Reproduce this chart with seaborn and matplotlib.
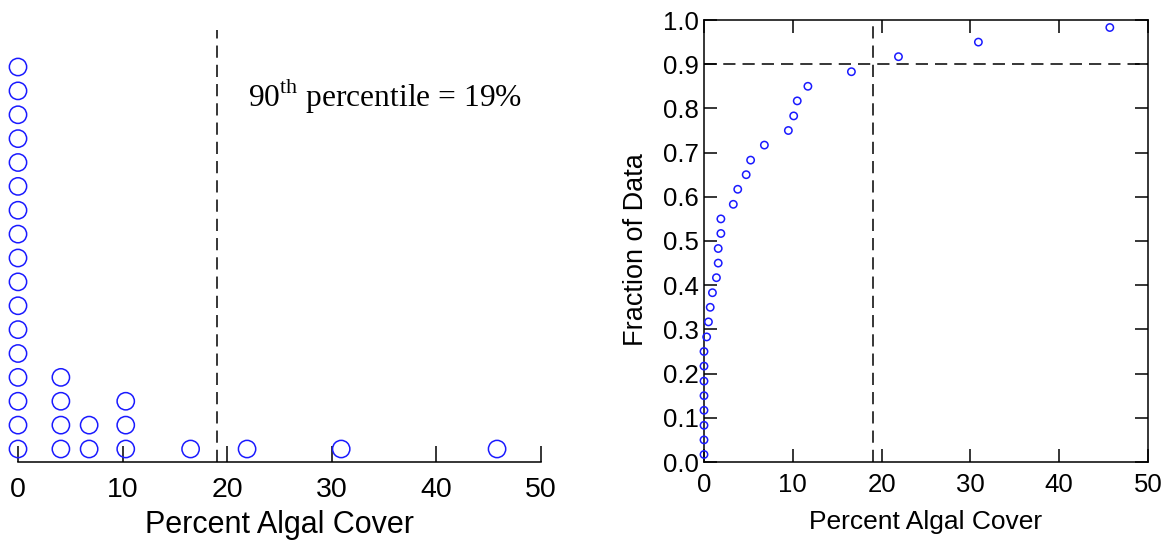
import numpy as np
import pandas as pd
import matplotlib
matplotlib.use('Agg')
import matplotlib.pyplot as plt
import seaborn as sns

sns.set_theme(style='white')
plt.rcParams['font.family'] = ['Liberation Sans', 'DejaVu Sans']
plt.rcParams['mathtext.fontset'] = 'custom'
plt.rcParams['mathtext.rm'] = 'Liberation Serif'
plt.rcParams['text.color'] = 'black'

# ── Data ──────────────────────────────────────────────────────────────────────

# dot plot (binned percent algal cover, number of samples per bin)
dot_bins = [0, 4.1, 6.8, 10.3, 16.5, 21.9, 30.9, 45.8]
dot_counts = [17, 4, 2, 3, 1, 1, 1, 1]

# sorted sample values and cumulative fraction of data
cover = [0, 0, 0, 0, 0, 0, 0, 0, 0.3, 0.5, 0.7, 0.95, 1.4, 1.6, 1.6,
         1.9, 1.9, 3.3, 3.8, 4.75, 5.25, 6.8, 9.5, 10.1, 10.5, 11.7,
         16.6, 21.9, 30.9, 45.7]
fraction = [0.017, 0.050, 0.083, 0.117, 0.150, 0.183, 0.217, 0.250,
            0.283, 0.317, 0.350, 0.383, 0.417, 0.450, 0.483, 0.517,
            0.550, 0.583, 0.617, 0.650, 0.683, 0.717, 0.750, 0.783,
            0.817, 0.850, 0.883, 0.917, 0.950, 0.983]

percentile_90 = 19
xticks = [0, 10, 20, 30, 40, 50]
yticks = [0.0, 0.1, 0.2, 0.3, 0.4, 0.5, 0.6, 0.7, 0.8, 0.9, 1.0]

df_dots = pd.DataFrame({'cover': np.repeat(dot_bins, dot_counts)})
df_dots['stack'] = df_dots.groupby('cover').cumcount() + 1
df_cdf = pd.DataFrame({'cover': cover, 'fraction': fraction})

W, H = 1162, 543
fig = plt.figure(figsize=(W / 100, H / 100), dpi=100)
fig.patch.set_facecolor('white')

lw = 1.1
dash = (8.0, 4.6)
blue = '#1a1aff'

# ── Left: dot plot ────────────────────────────────────────────────────────────

ax1 = fig.add_axes([18 / W, 1 - 462 / H, 523 / W, 432 / H])
ax1.set_facecolor('white')
sns.scatterplot(data=df_dots, x='cover', y='stack', ax=ax1, marker='o', s=155,
                facecolor='none', edgecolor=blue, linewidth=1.1,
                clip_on=False, zorder=3, legend=False)
ax1.axvline(percentile_90, color='black', lw=lw, dashes=dash)
ax1.set_xlim(0, 50)
ax1.set_ylim(0.4555, 18.55)
for side in ['left', 'top', 'right']:
    ax1.spines[side].set_visible(False)
ax1.spines['bottom'].set_color('black')
ax1.spines['bottom'].set_linewidth(lw)
ax1.set_xticks(xticks)
ax1.set_yticks([])
ax1.tick_params(axis='x', direction='in', length=11.5, width=lw, color='black',
                labelcolor='black', labelsize=20.5, pad=11, bottom=True)
ax1.set_xlabel('Percent Algal Cover', fontsize=22, labelpad=5, color='black')
ax1.set_ylabel('')
fig.text(248 / W, 1 - 106 / H, r'90$^{\rm th}$ percentile = 19%',
         family='Liberation Serif', fontsize=22.7, color='black',
         ha='left', va='baseline')

# ── Right: cumulative fraction ────────────────────────────────────────────────

ax2 = fig.add_axes([704 / W, 1 - 462 / H, 444 / W, 442 / H])
ax2.set_facecolor('white')
sns.scatterplot(data=df_cdf, x='cover', y='fraction', ax=ax2, marker='o', s=28,
                facecolor='none', edgecolor=blue, linewidth=1.1,
                clip_on=False, zorder=3, legend=False)
ax2.axvline(percentile_90, color='black', lw=lw, dashes=dash)
ax2.axhline(0.9, color='black', lw=lw, dashes=dash)
ax2.set_xlim(0, 50)
ax2.set_ylim(0, 1)
ax2.set_xticks(xticks)
ax2.set_yticks(yticks)
ax2.set_yticklabels([f'{t:.1f}' for t in yticks])
for side in ax2.spines.values():
    side.set_color('black')
    side.set_linewidth(lw)
ax2.tick_params(direction='in', length=9.6, width=lw, color='black',
                labelcolor='black', labelsize=18.5,
                top=True, right=True, bottom=True, left=True)
ax2.tick_params(axis='x', pad=8)
ax2.tick_params(axis='y', pad=4)
ax2.set_xlabel('Percent Algal Cover', fontsize=19, labelpad=9, color='black')
ax2.set_ylabel('Fraction of Data', fontsize=19.5, labelpad=10, color='black')
ax2.yaxis.label.set_y(0.48)

fig.savefig('out.png', dpi=100, facecolor='white')
